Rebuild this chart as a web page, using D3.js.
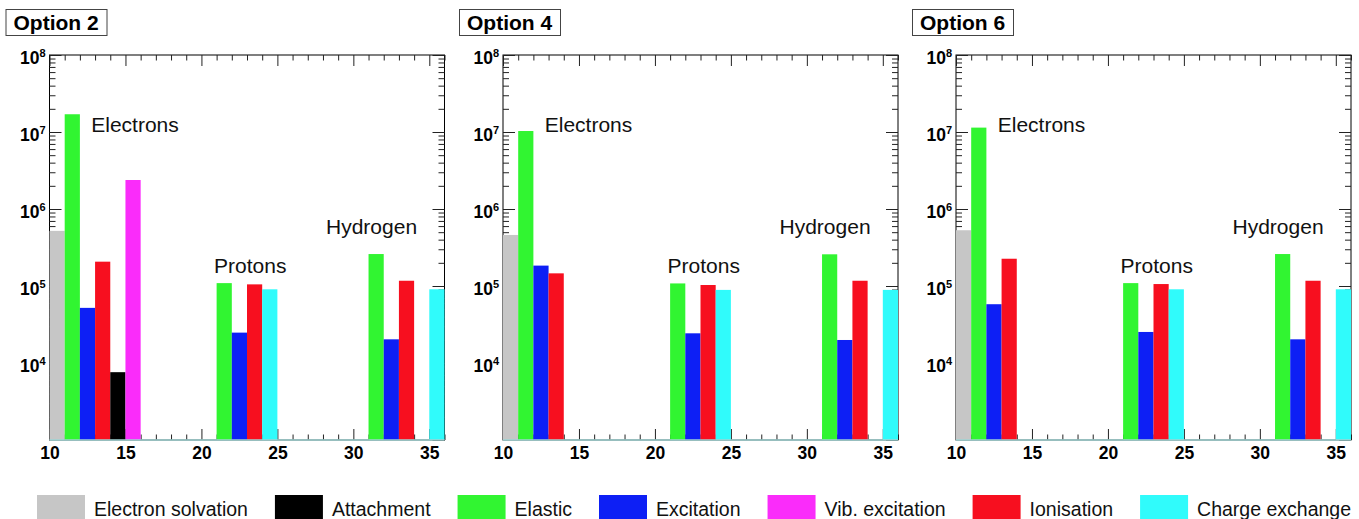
<!DOCTYPE html>
<html>
<head>
<meta charset="utf-8">
<script src="https://cdn.jsdelivr.net/npm/d3@7"></script>
<style>
  body { margin: 0; background: #fff; }
  svg { display: block; font-family: "Liberation Sans", Arial, Helvetica, sans-serif; }
</style>
</head>
<body>
<svg width="1359" height="519"></svg>
<script>

  // DATA

  var optionNames = ["Option 2", "Option 4", "Option 6"];

  var processNames = ["Electron solvation", "Attachment", "Elastic", "Excitation",
    "Vib. excitation", "Ionisation", "Charge exchange"];
  var processColors = ["#c6c6c6", "#000000", "#31f531", "#0d1ff5",
    "#fa2cfa", "#f70f1f", "#30fbfb"];

  // lower edge of each unit-wide bin and the process it counts
  var binEdges = [10, 11, 12, 13, 14, 15, 21, 22, 23, 24, 31, 32, 33, 35];
  var binProcess = ["Electron solvation", "Elastic", "Excitation", "Ionisation", "Attachment", "Vib. excitation",
    "Elastic", "Excitation", "Ionisation", "Charge exchange",
    "Elastic", "Excitation", "Ionisation", "Charge exchange"];

  var option2Counts = [5.2e5, 1.7e7, 5.2e4, 2.07e5, 7.6e3, 2.38e6, 1.09e5, 2.48e4, 1.05e5, 9.06e4, 2.6e5, 2.03e4, 1.17e5, 9.06e4];
  var option4Counts = [4.6e5, 1.03e7, 1.84e5, 1.46e5, 0, 0, 1.08e5, 2.43e4, 1.03e5, 8.9e4, 2.58e5, 1.99e4, 1.17e5, 8.9e4];
  var option6Counts = [5.3e5, 1.14e7, 5.8e4, 2.26e5, 0, 0, 1.09e5, 2.53e4, 1.06e5, 9.06e4, 2.6e5, 2.03e4, 1.17e5, 9.06e4];
  var allCounts = [option2Counts, option4Counts, option6Counts];

  var particleLabels = ["Electrons", "Protons", "Hydrogen"];
  var particleX = [12.75, 20.83, 28.2];
  var particleY = [1e7, 1.46e5, 4.73e5];

  var xDomain = [10, 36];
  var yDomain = [1e3, 1e8];
  var xMajorTicks = [10, 15, 20, 25, 30, 35];
  var yMajorTicks = [1e3, 1e4, 1e5, 1e6, 1e7, 1e8];

  // SETUP

  var svg = d3.select("svg"),
    panelLefts = [49.5, 503, 956],
    panelWidth = 395,
    plotTop = 55,
    plotBottom = 440;

  var color = d3.scaleOrdinal().domain(processNames).range(processColors);

  svg.append("rect").attr("width", 1359).attr("height", 519).attr("fill", "#fff");

  function styleAxis(sel) {
    sel.select(".domain").remove();
    sel.selectAll(".tick line").attr("stroke", "#222");
  }

  // DRAWING

  optionNames.forEach(function (name, p) {
    var left = panelLefts[p],
      right = left + panelWidth,
      counts = allCounts[p];

    var x = d3.scaleLinear().domain(xDomain).range([left, right]);
    var y = d3.scaleLog().domain(yDomain).range([plotBottom, plotTop]);
    var yMinor = y.ticks().filter(function (d) { return yMajorTicks.indexOf(d) < 0; });
    var xMinor = d3.range(xDomain[0], xDomain[1] + 1).filter(function (d) { return xMajorTicks.indexOf(d) < 0; });

    var g = svg.append("g").attr("class", "panel");

    // title box
    var title = g.append("g").attr("transform", "translate(" + (left - 44) + ",9)");
    title.append("rect")
      .attr("x", 0.5).attr("y", 0.5)
      .attr("width", 101).attr("height", 26)
      .attr("fill", "#fff").attr("stroke", "#444");
    title.append("text")
      .attr("x", 8).attr("y", 21)
      .attr("font-size", 21).attr("font-weight", "bold")
      .text(name);

    // frame
    g.append("rect")
      .attr("x", left).attr("y", plotTop)
      .attr("width", panelWidth).attr("height", plotBottom - plotTop)
      .attr("fill", "none").attr("stroke", "#000");

    // axes
    g.append("g").attr("transform", "translate(0," + plotBottom + ")")
      .call(d3.axisBottom(x).tickValues(xMajorTicks).tickSizeInner(-11).tickSizeOuter(0).tickPadding(7).tickFormat(d3.format("d")))
      .call(styleAxis)
      .call(function (a) {
        a.selectAll(".tick text").attr("font-size", 17.5).attr("font-weight", "bold")
          .attr("font-family", "Liberation Sans, Arial, sans-serif").attr("fill", "#000");
      });
    g.append("g").attr("transform", "translate(0," + plotBottom + ")")
      .call(d3.axisBottom(x).tickValues(xMinor).tickSizeInner(-5.5).tickSizeOuter(0).tickFormat(""))
      .call(styleAxis);
    g.append("g").attr("transform", "translate(0," + plotTop + ")")
      .call(d3.axisTop(x).tickValues(xMajorTicks).tickSizeInner(-11).tickSizeOuter(0).tickFormat(""))
      .call(styleAxis);
    g.append("g").attr("transform", "translate(0," + plotTop + ")")
      .call(d3.axisTop(x).tickValues(xMinor).tickSizeInner(-5.5).tickSizeOuter(0).tickFormat(""))
      .call(styleAxis);

    g.append("g").attr("transform", "translate(" + left + ",0)")
      .call(d3.axisLeft(y).tickValues(yMajorTicks.slice(1)).tickSizeInner(-12).tickSizeOuter(0).tickPadding(4).tickFormat(""))
      .call(styleAxis)
      .call(function (a) {
        a.selectAll(".tick text").each(function (d) {
          var t = d3.select(this)
            .attr("dy", null).attr("y", 8)
            .attr("font-size", 17.5).attr("font-weight", "bold")
            .attr("font-family", "Liberation Sans, Arial, sans-serif").attr("fill", "#000");
          t.append("tspan").text("10");
          t.append("tspan").attr("dy", -7).attr("font-size", 11).text(Math.round(Math.log10(d)));
        });
      });
    g.append("g").attr("transform", "translate(" + left + ",0)")
      .call(d3.axisLeft(y).tickValues(yMinor).tickSizeInner(-6).tickSizeOuter(0).tickFormat(""))
      .call(styleAxis);
    g.append("g").attr("transform", "translate(" + right + ",0)")
      .call(d3.axisRight(y).tickValues(yMajorTicks).tickSizeInner(-12).tickSizeOuter(0).tickFormat(""))
      .call(styleAxis);
    g.append("g").attr("transform", "translate(" + right + ",0)")
      .call(d3.axisRight(y).tickValues(yMinor).tickSizeInner(-6).tickSizeOuter(0).tickFormat(""))
      .call(styleAxis);

    // bars
    var bins = binEdges.map(function (e, i) {
      return { edge: e, process: binProcess[i], value: counts[i] };
    }).filter(function (d) { return d.value > 0; });

    g.selectAll(".bar")
      .data(bins)
      .enter().append("rect")
      .attr("class", "bar")
      .attr("x", function (d) { return x(d.edge); })
      .attr("width", function (d) { return x(d.edge + 1) - x(d.edge); })
      .attr("y", function (d) { return y(d.value); })
      .attr("height", function (d) { return y(yDomain[0]) - y(d.value); })
      .attr("fill", function (d) { return color(d.process); });

    // histogram baseline
    g.append("line")
      .attr("x1", x(xDomain[0])).attr("x2", x(xDomain[1]))
      .attr("y1", plotBottom).attr("y2", plotBottom)
      .attr("stroke", "#9fd3d3").attr("stroke-width", 1.5);

    // particle labels
    g.selectAll(".particle")
      .data(particleLabels)
      .enter().append("text")
      .attr("class", "particle")
      .attr("x", function (d, i) { return x(particleX[i]); })
      .attr("y", function (d, i) { return y(particleY[i]); })
      .attr("font-size", 21)
      .attr("fill", "#111")
      .text(function (d) { return d; });
  });

  // LEGEND

  var legend = svg.append("g").attr("class", "legend");
  var lx = 37;
  processNames.forEach(function (name, i) {
    legend.append("rect")
      .attr("x", lx).attr("y", 495)
      .attr("width", 48).attr("height", 24)
      .attr("fill", color(name));
    var t = legend.append("text")
      .attr("x", lx + 57).attr("y", 516)
      .attr("font-size", 19.5)
      .attr("fill", "#111")
      .text(name);
    lx = lx + 57 + t.node().getComputedTextLength() + 27;
  });

</script>
</body>
</html>
